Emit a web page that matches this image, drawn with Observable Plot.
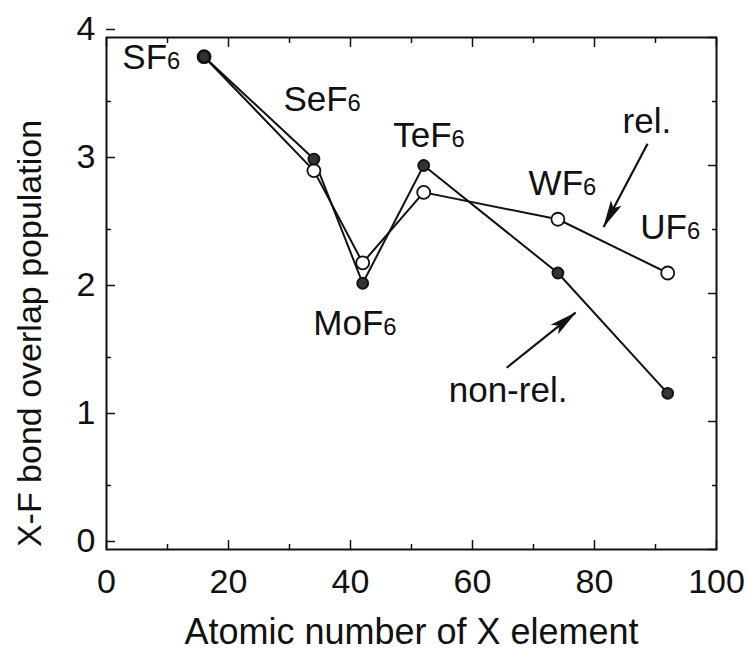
<!DOCTYPE html>
<html><head><meta charset="utf-8">
<script src="https://cdn.jsdelivr.net/npm/d3@7"></script>
<script src="https://cdn.jsdelivr.net/npm/@observablehq/plot@0.6"></script>
<style>body{margin:0;background:#fff}</style>
</head><body><div id="chart"></div>
<script>
// ---- data ----
const atomicNumber = [16, 34, 42, 52, 74, 92];
const molecules = ["SF6", "SeF6", "MoF6", "TeF6", "WF6", "UF6"];
const nonRelValues = [3.85, 3.05, 2.08, 3.00, 2.16, 1.22];
const relValues = [3.85, 2.96, 2.24, 2.79, 2.58, 2.16];

const xMajorTicks = [0, 20, 40, 60, 80, 100];
const xMinorTicks = [10, 30, 50, 70, 90];
const yMajorTicks = [0, 1, 2, 3, 4];
const yMinorTicks = [0.5, 1.5, 2.5, 3.5];

// annotation anchors (data units)
const labelText = ["SF6", "SeF6", "TeF6", "WF6", "UF6", "MoF6", "rel.", "non-rel."];
const labelX = [2.6, 29.0, 47.0, 69.2, 87.5, 33.9, 84.6, 56.1];
const labelY = [3.84, 3.51, 3.23, 2.86, 2.51, 1.76, 3.34, 1.24];
const arrowFromX = [88.7, 65.6];
const arrowFromY = [3.17, 1.42];
const arrowToX = [81.5, 76.9];
const arrowToY = [2.52, 1.85];

// ---- tables built from the arrays ----
const nonRel = atomicNumber.map((z, i) => ({z, v: nonRelValues[i], m: molecules[i]}));
const rel = atomicNumber.map((z, i) => ({z, v: relValues[i], m: molecules[i]}));
const labels = labelText.map((t, i) => ({t, x: labelX[i], y: labelY[i]}));
const arrows = arrowFromX.map((_, i) => ({x1: arrowFromX[i], y1: arrowFromY[i], x2: arrowToX[i], y2: arrowToY[i]}));

const FONT = "'Liberation Sans', Arial, Helvetica, sans-serif";
const blank = () => "";
const plain = d => String(d);

const chart = Plot.plot({
  width: 749,
  height: 651,
  marginTop: 37,
  marginBottom: 102,
  marginLeft: 106,
  marginRight: 33,
  style: {fontFamily: FONT, fontSize: "34px", background: "#fff", color: "#111"},
  x: {domain: [0, 100]},
  y: {domain: [0, 4]},
  marks: [
    Plot.frame({stroke: "#111", strokeWidth: 2}),
    Plot.axisX(xMajorTicks, {anchor: "bottom", tickSize: -9, tickPadding: 28, tickFormat: plain, fontSize: 34, label: null, strokeWidth: 1.5}),
    Plot.axisX(xMinorTicks, {anchor: "bottom", tickSize: -5, tickFormat: blank, label: null, strokeWidth: 1.5}),
    Plot.axisX(xMajorTicks, {anchor: "top", tickSize: -9, tickFormat: blank, label: null, strokeWidth: 1.5}),
    Plot.axisX(xMinorTicks, {anchor: "top", tickSize: -5, tickFormat: blank, label: null, strokeWidth: 1.5}),
    Plot.axisY(yMajorTicks, {anchor: "left", tickSize: -9, tickPadding: 20, dy: -8, tickFormat: plain, fontSize: 34, label: null, strokeWidth: 1.5}),
    Plot.axisY(yMinorTicks, {anchor: "left", tickSize: -5, tickFormat: blank, label: null, strokeWidth: 1.5}),
    Plot.axisY(yMajorTicks, {anchor: "right", tickSize: -9, tickFormat: blank, label: null, strokeWidth: 1.5}),
    Plot.axisY(yMinorTicks, {anchor: "right", tickSize: -5, tickFormat: blank, label: null, strokeWidth: 1.5}),
    Plot.text(["Atomic number of X element"], {frameAnchor: "bottom", textAnchor: "middle", dy: 94, fontSize: 36, fill: "#111"}),
    Plot.text(["X-F bond overlap population"], {frameAnchor: "left", textAnchor: "middle", dx: -76, dy: 40, rotate: -90, fontSize: 34, fill: "#111"}),
    Plot.line(rel, {x: "z", y: "v", stroke: "#111", strokeWidth: 2}),
    Plot.line(nonRel, {x: "z", y: "v", stroke: "#111", strokeWidth: 2}),
    Plot.dot(rel, {x: "z", y: "v", r: 6.5, fill: "#fff", stroke: "#111", strokeWidth: 1.8}),
    Plot.dot(nonRel, {x: "z", y: "v", r: 5.5, fill: "#333", stroke: "#111", strokeWidth: 1.8}),
    Plot.link(arrows, {x1: "x1", y1: "y1", x2: "x2", y2: "y2", stroke: "#111", strokeWidth: 2.2}),
    Plot.text(labels, {x: "x", y: "y", text: "t", textAnchor: "start", fontSize: 35, fill: "#111"})
  ]
});

document.getElementById("chart").appendChild(chart);

// subscripts and filled arrowheads
const svg = d3.select(chart);
svg.selectAll("text").each(function () {
  const s = this.textContent;
  if (/^[A-Z][a-z]?F6$/.test(s)) {
    const sel = d3.select(this);
    sel.text(s.slice(0, -1));
    sel.append("tspan").attr("font-size", "0.68em").text("6");
  }
});
const defs = svg.insert("defs", ":first-child");
defs.append("marker")
  .attr("id", "ahead")
  .attr("viewBox", "0 0 28 14")
  .attr("markerUnits", "userSpaceOnUse")
  .attr("markerWidth", 28)
  .attr("markerHeight", 14)
  .attr("refX", 27)
  .attr("refY", 7)
  .attr("orient", "auto")
  .append("path")
  .attr("d", "M0,1 L28,7 L0,13 L6,7 z")
  .attr("fill", "#111");
svg.selectAll("g[aria-label=link] path").attr("marker-end", "url(#ahead)");
</script>
</body></html>
